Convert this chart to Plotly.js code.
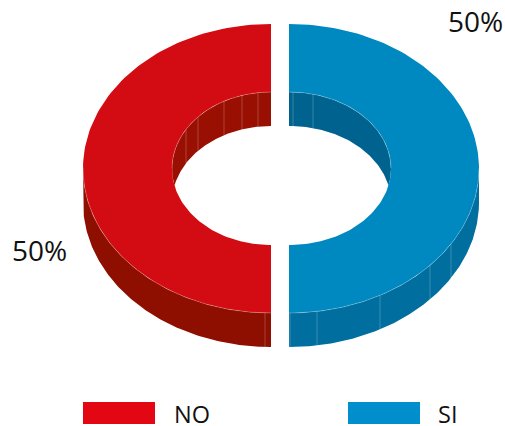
<!DOCTYPE html>
<html><head><meta charset="utf-8">
<script src="https://cdn.plot.ly/plotly-3.0.1.min.js"></script>
<style>html,body{margin:0;padding:0;background:#fff}#c{width:505px;height:426px}</style>
</head><body><div id="c"></div>
<script>
const categories = ['SI', 'NO'];
const values = [50, 50];
const topColors = ['#0088C1', '#D30B12'];
const outerWallColors = ['#006E9E', '#8E0F00'];
const innerWallColors = ['#00628E', '#990F02'];
const legendColors = ['#008FCC', '#E30613'];
const outerSeams = [[290, 317, 380, 430, 451], [265]];
const innerSeams = [[293, 313], [258, 242, 224, 198, 186]];

const CX = 280, CY = 168.5, EXPLODE = 9, RXS = [190, 188], RY = 144.5, IRXS = [102, 99], IRY = 76.5, DEPTH = 34;
const total = values.reduce((a, b) => a + b, 0);
const rad = d => d * Math.PI / 180;
const traces = [];

function arc(cx, cy, rx, ry, a0, a1) {
  const xs = [], ys = [], n = 120;
  for (let i = 0; i <= n; i++) {
    const t = rad(a0 + (a1 - a0) * i / n);
    xs.push(cx + rx * Math.sin(t));
    ys.push(cy - ry * Math.cos(t));
  }
  return [xs, ys];
}
function poly(name, a, b, color) {
  traces.push({
    type: 'scatter', mode: 'lines', name: name,
    x: a[0].concat(b[0].slice().reverse()), y: a[1].concat(b[1].slice().reverse()),
    fill: 'toself', fillcolor: color, line: {width: 0, color: color},
    hoverinfo: 'skip', showlegend: false
  });
}
function seam(x, y) {
  traces.push({type: 'scatter', mode: 'lines', x: x, y: y,
    line: {width: 1, color: 'rgba(255,255,255,0.22)'}, hoverinfo: 'skip', showlegend: false});
}
function rim(a) {
  traces.push({type: 'scatter', mode: 'lines', x: a[0], y: a[1],
    line: {width: 0.8, color: 'rgba(255,255,255,0.3)'}, hoverinfo: 'skip', showlegend: false});
}

const tipUp = Math.acos(-(DEPTH / 2) / IRY) * 180 / Math.PI;
const tipDn = Math.acos((DEPTH / 2) / IRY) * 180 / Math.PI;
const slices = [];
let cum = 0;
values.forEach((v, i) => {
  const s = cum / total * 360, e = (cum + v) / total * 360;
  cum += v;
  const mid = rad((s + e) / 2);
  slices.push({i, s, e, cx: CX + EXPLODE * Math.sin(mid)});
});

slices.forEach(({i, s, e, cx}) => {
  const RX = RXS[i], IRX = IRXS[i];
  // outer wall, facing the viewer
  const a0 = Math.max(s, 90), a1 = Math.min(e, 270);
  poly(categories[i] + ' outer', arc(cx, CY, RX, RY, a0, a1), arc(cx, CY + DEPTH, RX, RY, a0, a1), outerWallColors[i]);
  outerSeams[i].forEach(x => {
    const dx = (x - cx) / RX, h = RY * Math.sqrt(Math.max(0, 1 - dx * dx));
    seam([x, x], [CY + h, CY + h + DEPTH]);
  });
  // inner wall, seen through the hole
  const rightSide = s < 180;
  const top = rightSide ? arc(cx, CY, IRX, IRY, 0, Math.min(e, tipUp)) : arc(cx, CY, IRX, IRY, 360 - tipUp, 360);
  const low = rightSide ? arc(cx, CY + DEPTH, IRX, IRY, 0, tipDn) : arc(cx, CY + DEPTH, IRX, IRY, 360 - tipDn, 360);
  poly(categories[i] + ' inner', top, low, innerWallColors[i]);
  innerSeams[i].forEach(x => {
    const dx = (x - cx) / IRX, h = IRY * Math.sqrt(Math.max(0, 1 - dx * dx));
    seam([x, x], [CY - h, CY - h + DEPTH]);
  });
  // top face
  const outer = arc(cx, CY, RX, RY, s, e), inner = arc(cx, CY, IRX, IRY, s, e);
  poly(categories[i], outer, inner, topColors[i]);
  rim(arc(cx, CY, RX, RY, Math.max(s, 90), Math.min(e, 270)));
  rim(arc(cx, CY, IRX, IRY, rightSide ? 0 : 270, rightSide ? 90 : 360));
});

const legendX = [348, 83], legendTextX = [436, 172];
const shapes = categories.map((c, i) => ({type: 'rect', xref: 'x', yref: 'y',
  x0: legendX[i], x1: legendX[i] + 72, y0: 402, y1: 424, fillcolor: legendColors[i], line: {width: 0}}));
const FONT = '"Open Sans", sans-serif';
const annotations = categories.map((c, i) => ({xref: 'x', yref: 'y', x: legendTextX[i], y: 414,
  text: c, showarrow: false, xanchor: 'left', yanchor: 'middle', height: 22, width: 44, align: 'left', valign: 'middle',
  font: {family: FONT, size: 23.5, color: '#111'}}));
const labelX = [505, 69], labelY = [20.5, 249.5];
values.forEach((v, i) => annotations.push({xref: 'x', yref: 'y', x: labelX[i], y: labelY[i],
  text: Math.round(v / total * 100) + '%', showarrow: false, xanchor: 'right', yanchor: 'middle',
  font: {family: FONT, size: 28, color: '#111'}}));

Plotly.newPlot('c', traces, {
  width: 505, height: 426, margin: {l: 0, r: 0, t: 0, b: 0},
  paper_bgcolor: '#fff', plot_bgcolor: '#fff', showlegend: false,
  xaxis: {range: [0, 505], visible: false, fixedrange: true},
  yaxis: {range: [426, 0], visible: false, fixedrange: true},
  shapes, annotations
}, {displayModeBar: false, staticPlot: true});
</script></body></html>
